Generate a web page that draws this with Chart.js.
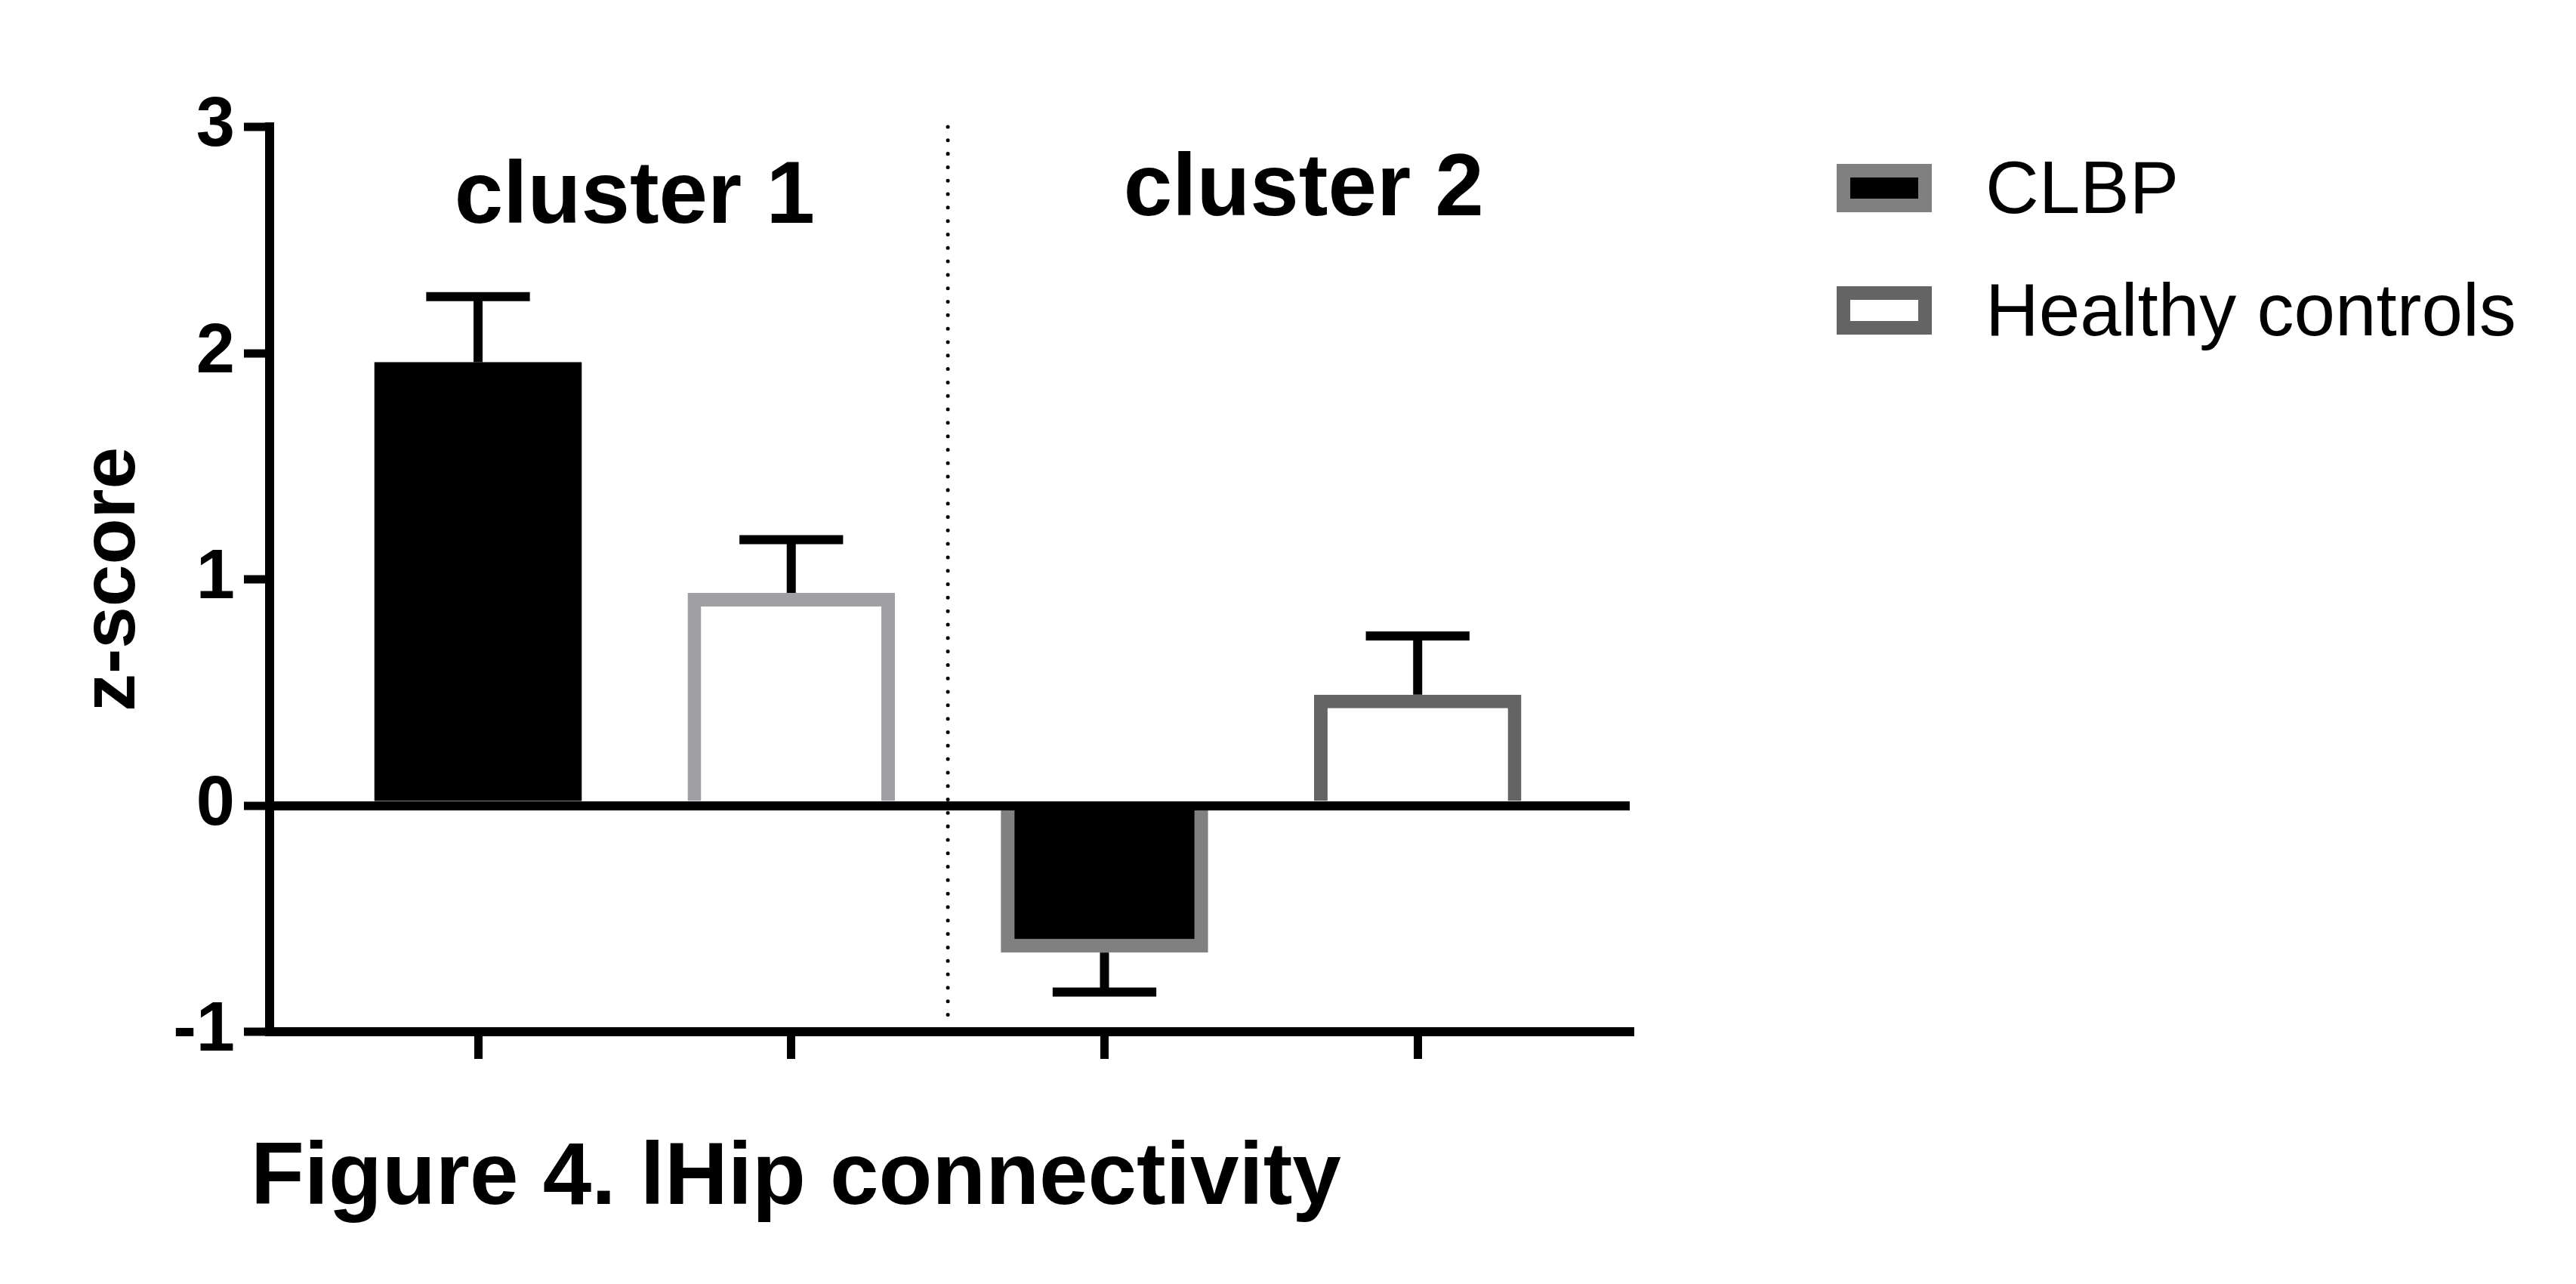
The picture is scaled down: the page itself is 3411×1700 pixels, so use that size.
<!DOCTYPE html>
<html>
<head>
<meta charset="utf-8">
<script src="https://cdn.jsdelivr.net/npm/chart.js@4/dist/chart.umd.min.js"></script>
<style>
  html, body { margin: 0; padding: 0; background: #ffffff; }
  #c { display: block; }
</style>
</head>
<body>
<canvas id="c" width="3411" height="1700"></canvas>
<script>
// ---- data ----
const clusters = ['cluster 1', 'cluster 2'];
const groups = ['CLBP', 'Healthy controls'];
const clbpMean = [1.96, -0.65];
const clbpErr = [0.29, 0.175];
const hcMean = [0.94, 0.49];
const hcErr = [0.235, 0.26];
const yTickValues = [-1, 0, 1, 2, 3];
const figureCaption = 'Figure 4. lHip connectivity';
const yTitle = 'z-score';

// ---- styles ----
const FONT = "'Liberation Sans', Arial, Helvetica, sans-serif";
const clbpFill = '#000000';
const clbpBorders = ['#000000', '#808080'];
const clbpBorderWidths = [0, 18];
const hcFill = '#ffffff';
const hcBorders = ['#a0a0a4', '#646464'];
const legendStyles = [
  { fill: clbpFill, border: '#808080' },
  { fill: hcFill, border: '#646464' }
];

// slot on x axis: cluster c, group g -> 2c + g + 1
const slot = (c, g) => 2 * c + g + 1;
const clbpData = clusters.map((_, c) => ({ x: slot(c, 0), y: clbpMean[c] }));
const hcData = clusters.map((_, c) => ({ x: slot(c, 1), y: hcMean[c] }));
const errs = [clbpErr, hcErr];

const errorBarPlugin = {
  id: 'errorBars',
  afterDatasetsDraw(chart) {
    const ctx = chart.ctx;
    const ys = chart.scales.y;
    ctx.save();
    ctx.strokeStyle = '#000';
    ctx.lineCap = 'butt';
    chart.data.datasets.forEach((ds, i) => {
      const meta = chart.getDatasetMeta(i);
      meta.data.forEach((el, j) => {
        const m = ds.data[j].y;
        const e = errs[i][j];
        const end = m >= 0 ? m + e : m - e;
        const y0 = ys.getPixelForValue(m);
        const y1 = ys.getPixelForValue(end);
        ctx.lineWidth = 12;
        ctx.beginPath();
        ctx.moveTo(el.x, y0);
        ctx.lineTo(el.x, y1);
        ctx.stroke();
        const half = el.width * 0.25;
        ctx.beginPath();
        ctx.moveTo(el.x - half, y1);
        ctx.lineTo(el.x + half, y1);
        ctx.stroke();
      });
    });
    ctx.restore();
  }
};

const decorPlugin = {
  id: 'decor',
  beforeDatasetsDraw(chart) {
    const ctx = chart.ctx;
    const xs = chart.scales.x, ca = chart.chartArea;
    // dotted divider between clusters
    const xd = xs.getPixelForValue((slot(0, 1) + slot(1, 0)) / 2);
    ctx.save();
    ctx.strokeStyle = '#000';
    ctx.lineWidth = 5;
    ctx.lineCap = 'round';
    ctx.setLineDash([0.01, 17.8]);
    ctx.beginPath();
    ctx.moveTo(xd, ca.top);
    ctx.lineTo(xd, ca.bottom - 10);
    ctx.stroke();
    ctx.restore();
  },
  afterDraw(chart) {
    const ctx = chart.ctx;
    const xs = chart.scales.x, ys = chart.scales.y;
    ctx.save();
    ctx.fillStyle = '#000';
    // cluster labels
    const labelPos = [{ x: 1.5, y: 2.576 }, { x: 3.636, y: 2.61 }];
    ctx.font = 'bold 116px ' + FONT;
    ctx.textAlign = 'center';
    ctx.textBaseline = 'alphabetic';
    clusters.forEach((name, c) => {
      ctx.fillText(name, xs.getPixelForValue(labelPos[c].x), ys.getPixelForValue(labelPos[c].y));
    });
    // legend
    const lx = 2432, boxW = 126, boxH = 64, bw = 18;
    const boxTops = [217, 379];
    ctx.font = '98px ' + FONT;
    ctx.textAlign = 'left';
    groups.forEach((g, i) => {
      const st = legendStyles[i];
      ctx.fillStyle = st.border;
      ctx.fillRect(lx, boxTops[i], boxW, boxH);
      ctx.fillStyle = st.fill;
      ctx.fillRect(lx + bw, boxTops[i] + bw, boxW - 2 * bw, boxH - 2 * bw);
      ctx.fillStyle = '#000';
      ctx.fillText(g, 2629, boxTops[i] + 65);
    });
    // caption
    ctx.font = 'bold 116px ' + FONT;
    ctx.fillText(figureCaption, 332, 1594);
    ctx.restore();
  }
};

new Chart(document.getElementById('c'), {
  type: 'bar',
  data: {
    datasets: [
      {
        label: groups[0],
        data: clbpData,
        backgroundColor: clbpFill,
        borderColor: clbpBorders,
        borderWidth: clbpBorderWidths,
        borderSkipped: 'start',
        grouped: false,
        barPercentage: 0.662,
        categoryPercentage: 1
      },
      {
        label: groups[1],
        data: hcData,
        backgroundColor: hcFill,
        borderColor: hcBorders,
        borderWidth: 18,
        borderSkipped: 'start',
        grouped: false,
        barPercentage: 0.662,
        categoryPercentage: 1
      }
    ]
  },
  options: {
    responsive: false,
    animation: false,
    devicePixelRatio: 1,
    layout: { padding: { top: 168, right: 1253, bottom: 294, left: 0 } },
    plugins: {
      legend: { display: false },
      tooltip: { enabled: false },
      title: { display: false }
    },
    scales: {
      x: {
        type: 'linear',
        offset: false,
        min: 0.3345,
        max: 4.677,
        afterBuildTicks(scale) {
          scale.ticks = clusters.flatMap((_, c) => groups.map((_, g) => ({ value: slot(c, g) })));
        },
        afterFit(scale) { scale.height = 40; },
        ticks: { display: false, autoSkip: false },
        grid: {
          offset: false,
          drawOnChartArea: false,
          drawTicks: true,
          tickLength: 36,
          tickWidth: 11,
          tickColor: '#000',
          color: '#000',
          lineWidth: 11,
          z: 1
        },
        border: { display: true, color: '#000', width: 12, z: 1 }
      },
      y: {
        type: 'linear',
        min: yTickValues[0],
        max: yTickValues[yTickValues.length - 1],
        afterBuildTicks(scale) {
          scale.ticks = yTickValues.map(v => ({ value: v }));
        },
        afterFit(scale) { scale.width = 357; },
        ticks: {
          color: '#000',
          padding: 12,
          font: { family: FONT, size: 92, weight: 'bold' },
          callback: (v) => String(v)
        },
        grid: {
          drawOnChartArea: true,
          drawTicks: true,
          tickLength: 34,
          tickWidth: 11,
          tickColor: '#000',
          color: (ctx) => (ctx.tick && ctx.tick.value === 0) ? '#000' : 'rgba(0,0,0,0)',
          lineWidth: 12,
          z: 1
        },
        border: { display: true, color: '#000', width: 12, z: 1 },
        title: {
          display: true,
          text: yTitle,
          color: '#000',
          font: { family: FONT, size: 100, weight: 'bold' },
          padding: { top: 90, bottom: 0 }
        }
      }
    }
  },
  plugins: [errorBarPlugin, decorPlugin]
});
</script>
</body>
</html>
